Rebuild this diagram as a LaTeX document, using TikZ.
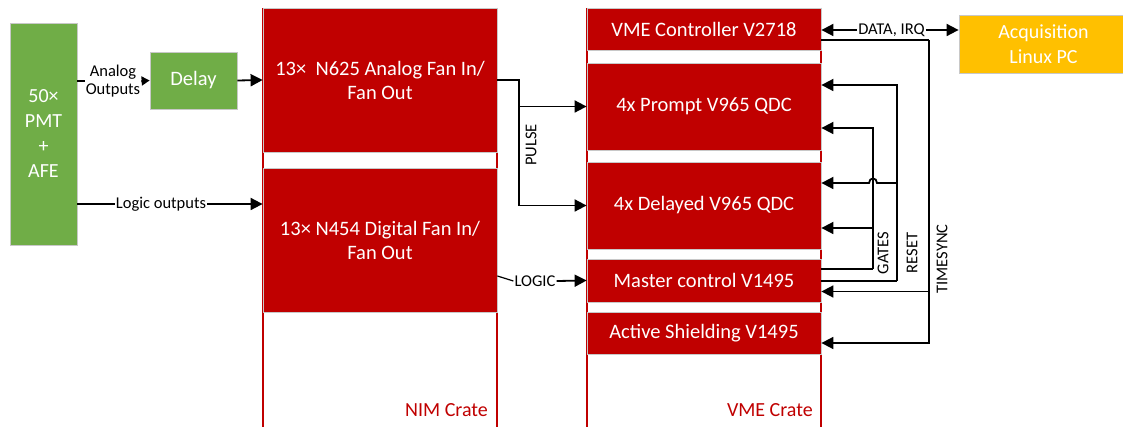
\documentclass[tikz,border=0pt]{standalone}
\usepackage{fontspec}
\setmainfont{Carlito}
\usetikzlibrary{arrows.meta}
\definecolor{boxred}{HTML}{C00000}
\definecolor{cratered}{HTML}{C00000}
\definecolor{boxgreen}{HTML}{70AD47}
\definecolor{boxyellow}{HTML}{FFC000}
\definecolor{edgegray}{HTML}{C8C8C8}
\tikzset{
  box/.style={draw=edgegray, line width=0.8pt, text=white, align=center, inner sep=0pt,
    font=\fontsize{20.5}{24}\selectfont},
  redbox/.style={box, fill=boxred, minimum width=234pt},
  lab/.style={font=\fontsize{16.5}{18}\selectfont, inner sep=1pt, align=center},
  conn/.style={line width=1.8pt, -{Triangle[length=12pt,width=12pt]}},
  plain/.style={line width=1.8pt},
  cratelabel/.style={text=boxred, font=\fontsize{20}{24}\selectfont, inner sep=0pt}
}
\begin{document}
\begin{tikzpicture}[x=1pt,y=-1pt]
\useasboundingbox (0,0) rectangle (1123,427);
% crates
\draw[cratered, line width=1.3pt] (263,8) -- (263,430) (497,8) -- (497,430);
\draw[cratered, line width=1.3pt] (587,8) -- (587,430) (821,8) -- (821,430);
\node[cratelabel, anchor=east] (nimlab) at (488,410) {NIM Crate};
\node[cratelabel, anchor=east] (vmelab) at (813,410) {VME Crate};
% boxes
\node[box, fill=boxgreen, minimum width=67pt, minimum height=222pt, font=\fontsize{20}{25}\selectfont] (pmt) at (43.5,134) {50×\\PMT\\+\\AFE};
\node[box, fill=boxgreen, minimum width=87pt, minimum height=57pt] (delay) at (193.5,80.5) {Delay};
\node[redbox, minimum height=144pt] (n625) at (380,80) {13×\ \ N625 Analog Fan In/\\Fan Out};
\node[redbox, minimum height=144pt] (n454) at (380,240) {13× N454 Digital Fan In/\\Fan Out};
\node[redbox, minimum height=42pt] (vme) at (704,29) {VME Controller V2718};
\node[redbox, minimum height=87pt] (prompt) at (704,106.5) {4x Prompt V965 QDC};
\node[redbox, minimum height=87pt] (delayed) at (704,205.5) {4x Delayed V965 QDC};
\node[redbox, minimum height=43pt] (master) at (704,280.5) {Master control V1495};
\node[redbox, minimum height=42pt] (active) at (704,333) {Active Shielding V1495};
\node[box, fill=boxyellow, minimum width=169pt, minimum height=58pt, font=\fontsize{20}{25}\selectfont] (pc) at (1043.5,44) {Acquisition\\Linux PC};
% labels
\node[lab] (alab) at (113,81) {Analog\\Outputs};
\node[lab, fill=white] (llab) at (161,204) {Logic outputs};
\node[lab] (loglab) at (535,281) {LOGIC};
\node[lab] (dlab) at (891.5,30) {DATA, IRQ};
\node[lab, rotate=90] (pulselab) at (531,145) {PULSE};
\node[lab, rotate=90] (gateslab) at (883,253) {GATES};
\node[lab, rotate=90] (resetlab) at (912,253) {RESET};
\node[lab, rotate=90] (tslab) at (942,259) {TIMESYNC};
% coordinates
\coordinate (pj) at (519,80);
\coordinate (ts) at (929,40);
\coordinate (rs) at (897,281);
\coordinate (gt) at (873,269);
% connectors left
\draw[plain] (pmt.east |- alab) -- (alab.west);
\draw[line width=1.8pt, -{Triangle[length=8pt,width=9pt]}] (alab.east) -- (delay.west);
\draw[conn] (delay.east) -- (n625.west);
\draw[plain] (pmt.east |- llab) -- (llab.west);
\draw[conn] (llab.east) -- (n454.west |- llab);
% pulse
\draw[conn] (n625.east) -- (pj) |- (delayed.west);
\draw[conn] (pj |- prompt.west) -- (prompt.west);
% logic
\draw[line width=1.2pt] (n454.east |- 0,276) -- (loglab.west);
\draw[conn] (loglab.east) -- (master.west);
% data irq
\draw[conn] (dlab.west) -- (vme.east |- dlab);
\draw[conn] (dlab.east) -- (pc.west |- dlab);
% timesync
\draw[plain] (vme.east |- ts) -- (ts);
\draw[conn] (ts) |- (active.east |- 0,343);
\draw[conn] (ts |- 0,291.5) -- (master.east |- 0,291.5);
% reset
\draw[plain] (master.east |- rs) -- (rs);
\draw[conn] (rs) |- (prompt.east |- 0,85);
\draw[conn] (rs |- 0,183) -- (877,183) .. controls (877,177) and (869,177) .. (869,183) -- (delayed.east |- 0,183);
% gates
\draw[plain] (master.east |- gt) -- (gt);
\draw[conn] (gt) |- (prompt.east |- 0,128);
\draw[conn] (gt |- 0,228) -- (delayed.east |- 0,228);
\end{tikzpicture}
\end{document}
